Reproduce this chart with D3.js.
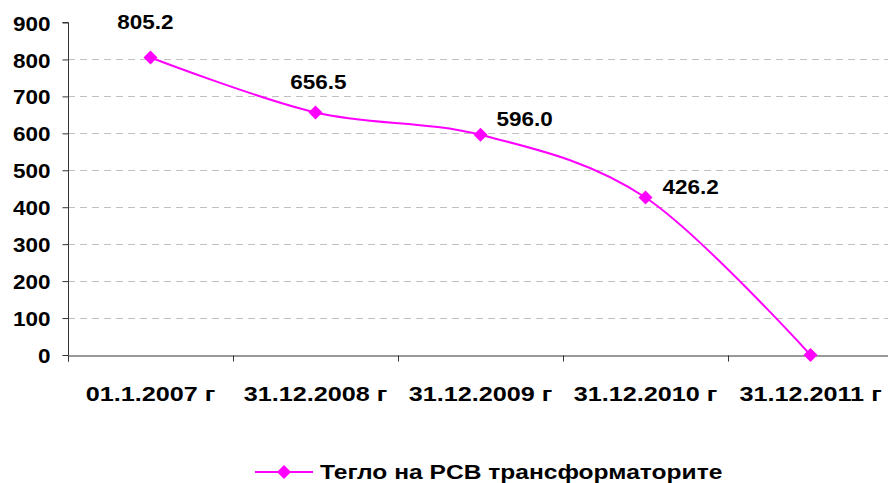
<!DOCTYPE html>
<html>
<head>
<meta charset="utf-8">
<script src="https://cdn.jsdelivr.net/npm/d3@7"></script>
<style>
  html, body { margin: 0; padding: 0; background: #fff; }
  svg text { font-family: "Liberation Sans", Arial, sans-serif; font-weight: bold; fill: #000; }
</style>
</head>
<body>
<svg id="chart" width="888" height="483"></svg>
<script>
// Weight of PCB transformers at each reporting date
const categories = ["01.1.2007 г", "31.12.2008 г", "31.12.2009 г", "31.12.2010 г", "31.12.2011 г"];
const weights = [805.2, 656.5, 596.0, 426.2, 0];
const valueLabels = ["805.2", "656.5", "596.0", "426.2", ""];
const yTicks = [0, 100, 200, 300, 400, 500, 600, 700, 800, 900];
const seriesName = "Тегло на PCB трансформаторите";

const svg = d3.select("#chart");
const FONT = 21;
const magenta = "#ff00ff";

const plot = { left: 68, right: 893, top: 22.5, bottom: 355 };

const x = d3.scaleBand().domain(categories).range([plot.left, plot.right]).padding(0);
const xEdge = d3.scaleLinear().domain([0, categories.length]).range([plot.left, plot.right]);
const y = d3.scaleLinear().domain([0, 900]).range([plot.bottom, plot.top]);

// widen glyphs horizontally by factor k
function stretch(sel, k) {
  sel.each(function () {
    const len = this.getComputedTextLength();
    if (len > 0) {
      this.setAttribute("textLength", len * k);
      this.setAttribute("lengthAdjust", "spacingAndGlyphs");
    }
  });
}

// dashed horizontal gridlines
svg.append("g").selectAll("line")
  .data(yTicks.filter(d => d > 0 && d < 900))
  .join("line")
  .attr("x1", plot.left).attr("x2", plot.right)
  .attr("y1", d => Math.round(y(d)) + 0.5).attr("y2", d => Math.round(y(d)) + 0.5)
  .attr("stroke", "#c0c0c0").attr("stroke-width", 1)
  .attr("stroke-dasharray", "7,5");

// y axis
const yAxis = svg.append("g")
  .attr("transform", `translate(${plot.left + 0.5},0)`)
  .call(d3.axisLeft(y).tickValues(yTicks).tickSize(6).tickPadding(12).tickFormat(d3.format("d")));
yAxis.select(".domain").attr("stroke", "#333").attr("d", `M-6,${y(900)}H0V${y(0)}`);
yAxis.selectAll(".tick line").attr("stroke", "#333");
yAxis.attr("font-family", null).attr("font-size", null);
yAxis.selectAll(".tick text")
  .attr("font-size", FONT).attr("dy", "0.36em")
  .call(stretch, 1.07);

// x axis: boundary ticks
const xAxis = svg.append("g")
  .attr("transform", `translate(0,${Math.round(plot.bottom) + 0.5})`)
  .call(d3.axisBottom(xEdge).tickValues(d3.range(categories.length + 1)).tickSize(6).tickFormat(""));
xAxis.select(".domain").attr("stroke", "#333");
xAxis.selectAll(".tick line").attr("stroke", "#333");

// x axis: category labels
const xLabels = svg.append("g")
  .attr("transform", `translate(0,${plot.bottom})`)
  .call(d3.axisBottom(x).tickSize(0).tickPadding(0));
xLabels.select(".domain").remove();
xLabels.attr("font-family", null).attr("font-size", null);
xLabels.selectAll(".tick text")
  .attr("font-size", FONT).attr("y", 45.5).attr("dy", null)
  .call(stretch, 1.2);

// smoothed series line
const pts = categories.map((c, i) => ({ c, v: weights[i], label: valueLabels[i] }));
const line = d3.line()
  .x(d => x(d.c) + x.bandwidth() / 2)
  .y(d => y(d.v))
  .curve(d3.curveCardinal.tension(0));

svg.append("path")
  .datum(pts)
  .attr("d", line)
  .attr("fill", "none")
  .attr("stroke", magenta)
  .attr("stroke-width", 2);

// diamond markers
const diamond = r => `M0,${-r}L${r},0L0,${r}L${-r},0Z`;
svg.append("g").selectAll("path")
  .data(pts)
  .join("path")
  .attr("transform", d => `translate(${x(d.c) + x.bandwidth() / 2},${y(d.v)})`)
  .attr("d", diamond(7))
  .attr("fill", magenta);

// value labels (offsets relative to each point)
const labelOffsets = [[-5, -29, "middle"], [3, -23, "middle"], [16, -9, "start"], [17, -4, "start"], [0, 0, "middle"]];
svg.append("g").selectAll("text")
  .data(pts.filter(d => d.label))
  .join("text")
  .attr("x", (d, i) => x(d.c) + x.bandwidth() / 2 + labelOffsets[i][0])
  .attr("y", (d, i) => y(d.v) + labelOffsets[i][1])
  .attr("text-anchor", (d, i) => labelOffsets[i][2])
  .attr("font-size", FONT)
  .text(d => d.label)
  .call(stretch, 1.07);

// legend
const legend = svg.append("g").attr("transform", "translate(255,472)");
legend.append("line").attr("x1", 0).attr("x2", 58).attr("y1", 0).attr("y2", 0)
  .attr("stroke", magenta).attr("stroke-width", 2);
legend.append("path").attr("transform", "translate(29,0)").attr("d", diamond(7)).attr("fill", magenta);
legend.append("text").attr("x", 65).attr("y", 7).attr("font-size", FONT)
  .text(seriesName).call(stretch, 1.17);
</script>
</body>
</html>
